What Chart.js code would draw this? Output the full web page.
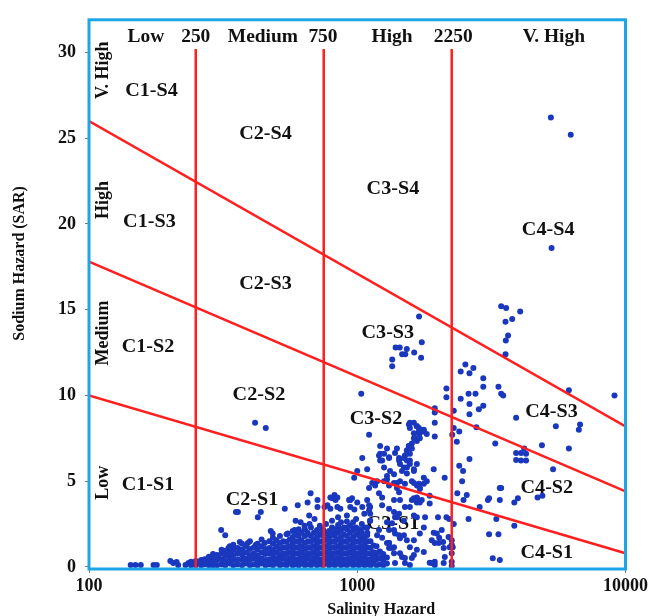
<!DOCTYPE html>
<html>
<head>
<meta charset="utf-8">
<script src="https://cdn.jsdelivr.net/npm/chart.js@4.4.1/dist/chart.umd.min.js"></script>
<style>
  html, body { margin: 0; padding: 0; background: #fff; }
  #wrap { width: 651px; height: 616px; }
</style>
</head>
<body>
<div id="wrap"><canvas id="ussl"></canvas></div>
<script>
// salinity class breaks (EC) and sodium class lines (SAR at EC=100, SAR at EC=10000)
const salinityBreaks = [250, 750, 2250];
const sodiumLines = [[10, 0.8], [17.8, 4.4], [26, 8.2]];
const xTicks = [100, 1000, 10000];
const yTicks = [0, 5, 10, 15, 20, 25, 30];

// scattered samples [EC, SAR]
const samples = [
  [5270,26.2],[6250,25.2],[5300,18.6],
  [3440,15.2],[3590,15.1],[4050,14.9],[3570,14.3],[3780,14.45],[3650,13.5],[3580,13.2],[3570,12.4],
  [2530,11.8],[2430,11.4],[2620,11.3],[2710,11.6],[2950,11.0],[2950,10.5],[3360,10.5],[3440,10.1],[3500,10.0],
  [2430,9.8],[2600,10.1],[2760,10.1],[2620,9.5],[2840,9.2],[2950,9.4],[2620,8.9],[2290,9.1],
  [2290,8.1],[2400,7.9],[2260,7.7],[2780,8.15],[3910,8.7],[6150,10.3],[9100,10.0],[5500,8.2],[6700,8.0],[6770,8.3],
  [2150,10.4],[2150,9.9],
  [2350,7.3],[3270,7.2],[4190,6.9],[3910,6.65],[4080,6.65],[4260,6.6],[3910,6.24],[4080,6.2],[4260,6.2],
  [4880,7.1],[6150,6.9],[5370,5.7],[2400,5.9],[2480,5.6],[2620,6.3],[2460,5.0],[2360,4.3],[2560,4.2],
  [3400,4.6],[3440,4.6],[3100,4.0],[3070,3.9],[3400,3.9],[3850,3.75],[3970,4.0],[4700,4.05],[4900,4.15],
  [2860,3.5],[3300,2.8],[3850,2.4],[3100,1.9],[3360,1.9],[3200,0.5],[3400,0.4],
  [2200,2.8],[2290,2.5],[2250,1.3],[2250,0.05],[2490,3.9],[2600,2.8],
  [1700,14.6],[1740,13.1],[1390,12.8],[1440,12.8],[1530,12.7],[1470,12.4],[1510,12.4],[1630,12.5],[1730,12.2],[1350,12.1],[1350,11.7],
  [1035,10.1],[1945,9.25],[1945,9.0],[1945,8.4],[1107,7.7],
  [1571,8.4],[1668,8.2],[1711,8.0],[1771,7.9],[1698,7.75],[1626,7.5],[1598,7.2],[1558,7.05],[1531,6.8],[1506,6.5],
  [1531,6.2],[1571,6.0],[1493,5.8],[1626,5.7],
  [1816,7.75],[1945,7.6],[1406,6.9],[1432,6.2],[1217,6.6],[1238,6.2],[1314,6.4],[1928,5.7],[1325,5.6],[1371,5.4],[1000,5.6],[974,5.2],
  [1291,5.1],[1406,4.9],[1506,4.85],[1598,5.0],[1698,4.85],[1711,4.6],[1668,4.05],[1740,3.9],[1862,3.7],[2118,5.2],
  [1166,4.75],[1205,4.3],[1238,4.05],[1626,4.0],[1668,3.75],[956,4.0],[1089,3.9],[1117,3.5],
  [1371,3.2],[1406,2.9],[1493,2.7],[1626,3.0],[1790,2.9],[2000,2.9],[2150,2.9],
  [1771,2.3],[1928,2.0],[2020,1.7],[2090,1.45],[1945,1.4],[1314,1.4],[1371,1.15],[1443,0.8],[1626,0.7],[1771,0.87],
  [1862,0.25],[1945,0.3],[2250,1.55],[2270,1.15],[2250,0.3],[1217,7.05],[1291,6.9],
  [2190,1.75],[2210,1.15],[2250,0.8],[2100,1.1],[2120,0.58],[2065,2.15],[1980,1.95],[1896,1.55],[2013,1.4],
  [1896,0.23],[1945,0.12],[2100,0.23],[1668,2.9],[1711,1.95],[1626,1.55],[1571,1.15],[1668,1.0],
  [1468,0.58],[1506,0.52],[1598,0.52],[1348,1.1],[1314,1.4],[1371,0.8],[1531,1.55],[1443,1.68],
  [1291,2.6],[1314,2.15],[1348,2.55],[1205,2.15],[1186,1.85],[1117,3.1],[1238,3.6],[1314,3.4],[1383,2.9],[1432,3.1],
  [1371,3.9],[1443,3.9],[1506,3.5],[1571,3.5],[1598,3.9],[1668,4.0],[1711,3.75],
  [1668,4.75],[1711,4.55],[1771,4.85],[1626,4.9],[1862,4.15],[1771,5.2],[1816,5.0],
  [1531,5.45],[1626,5.6],[1531,5.8],[1571,6.2],[1668,6.0],[1443,5.0],[1406,4.6],[1432,4.35],
  [1314,4.75],[1371,4.9],[1259,5.0],[1291,5.3],[1217,6.2],[1259,5.8],[1259,6.6],[1205,6.5],[1314,6.35],
  [1383,6.65],[1432,6.35],[1493,6.35],[1443,6.0],[1468,5.6],[1558,7.05],[1598,6.9],[1531,6.6],[1571,6.6],
  [1571,8.1],[1626,7.8],[1640,7.5],[1668,7.35],[1711,7.8],[1698,8.1],[1771,8.0],[1711,7.5],
  [1558,8.3],[1626,8.4],[1668,8.2],[1698,7.9],[1044,6.35],[1089,5.7],
  [1186,5.0],[1137,4.9],[1107,4.6],[934,3.9],[942,3.5],[1000,3.75],
  [1044,3.5],[1062,3.1],[1107,3.6],[1117,2.7],[1062,2.3],[1016,2.15],[1089,1.85],
  [1238,1.7],[1291,1.4],[1314,1.1],[1205,0.87],[1238,0.58],[1186,0.52],[1156,0.8],[1493,1.85],
  [1371,2.15],[1383,1.95],[1432,1.85],[1383,0.23],[1506,0.23],[1571,0.12],
  [670,4.3],[822,4.2],[808,4.0],[843,4.05],[600,3.6],[653,3.75],[711,3.5],[359,3.2],[437,3.2],[426,2.9],
  [537,3.4],[774,3.6],[794,3.4],[843,3.5],[934,3.9],[975,3.35],[662,3.0],[693,2.8],[476,2.1],[484,1.95],
  [589,2.7],[615,2.6],[636,2.4],[664,2.5],[584,2.15],[551,1.95],[600,1.85],[653,2.0],[742,2.15],[774,1.95],
  [822,2.0],[858,2.25],[918,2.3],[975,2.25],[1016,2.15],[1089,2.3],[1117,2.7],[365,1.45],[391,1.4],[419,1.3],
  [452,1.4],[336,1.1],[368,1.0],[711,3.9],[794,4.05],[830,3.9],[755,3.5],[942,3.9],[865,3.4],[1107,3.3],
  [416,8.4],[456,8.1],
  [143,0.12],[149,0.12],[156,0.12],[174,0.12],[179,0.12],[201,0.35],[206,0.23],[212,0.29],[215,0.12],
  [229,0.12],[235,0.23],[311,2.15],[322,1.85],[353,3.2],[331,1.1],[278,0.5],[303,0.58],[331,0.7],[255,0.3]
];

// dense low-SAR cluster, column by column: [EC, [SAR, ...]]
const denseColumns = [
  [240, [0.1, 0.3]],
  [250, [0.1, 0.35, 0.2]],
  [262, [0.1, 0.4]],
  [270, [0.15, 0.45, 0.3]],
  [280, [0.1, 0.35, 0.6]],
  [290, [0.2, 0.5, 0.75, 0.1]],
  [300, [0.1, 0.4, 0.7]],
  [312, [0.15, 0.45, 0.8, 1.0]],
  [322, [0.1, 0.35, 0.65, 0.95]],
  [335, [0.2, 0.5, 0.85, 1.2]],
  [345, [0.1, 0.4, 0.7, 1.0, 1.3]],
  [358, [0.15, 0.45, 0.8, 1.1]],
  [372, [0.1, 0.4, 0.7, 1.0, 1.35]],
  [385, [0.2, 0.5, 0.85, 1.2]],
  [398, [0.1, 0.4, 0.7, 1.05, 1.5]],
  [412, [0.15, 0.5, 0.8, 1.15]],
  [425, [0.1, 0.35, 0.65, 1.0, 1.35]],
  [440, [0.2, 0.5, 0.85, 1.2, 1.6]],
  [455, [0.1, 0.4, 0.75, 1.05]],
  [470, [0.15, 0.45, 0.8, 1.1, 1.5]],
  [485, [0.1, 0.4, 0.7, 1.0, 1.35, 1.7]],
  [500, [0.2, 0.5, 0.85, 1.2, 1.55]],
  [515, [0.1, 0.4, 0.7, 1.05, 1.4, 1.8]],
  [530, [0.15, 0.5, 0.8, 1.15, 1.5]],
  [545, [0.1, 0.4, 0.75, 1.1, 1.45, 1.9]],
  [560, [0.2, 0.5, 0.85, 1.2, 1.6]],
  [575, [0.1, 0.4, 0.7, 1.05, 1.4, 1.75, 2.1]],
  [590, [0.15, 0.45, 0.8, 1.15, 1.5, 1.9]],
  [605, [0.1, 0.4, 0.75, 1.1, 1.45, 1.8, 2.2]],
  [620, [0.2, 0.5, 0.85, 1.2, 1.55, 2.0]],
  [638, [0.1, 0.4, 0.7, 1.05, 1.4, 1.8, 2.2]],
  [655, [0.15, 0.5, 0.8, 1.15, 1.5, 1.9]],
  [672, [0.1, 0.4, 0.75, 1.1, 1.45, 1.8, 2.3]],
  [690, [0.2, 0.5, 0.85, 1.2, 1.6, 2.0]],
  [708, [0.1, 0.4, 0.7, 1.05, 1.4, 1.75, 2.15]],
  [725, [0.15, 0.45, 0.8, 1.15, 1.5, 1.9, 2.4]],
  [745, [0.1, 0.4, 0.75, 1.1, 1.45, 1.8, 2.2]],
  [765, [0.2, 0.5, 0.85, 1.2, 1.6, 2.0, 2.5]],
  [785, [0.1, 0.4, 0.7, 1.05, 1.4, 1.75, 2.1]],
  [805, [0.15, 0.5, 0.8, 1.15, 1.5, 1.9, 2.3, 2.7]],
  [825, [0.1, 0.4, 0.75, 1.1, 1.45, 1.8, 2.2]],
  [848, [0.2, 0.5, 0.85, 1.2, 1.6, 2.0, 2.45, 2.9]],
  [870, [0.1, 0.4, 0.7, 1.05, 1.4, 1.75, 2.15, 2.6]],
  [892, [0.15, 0.45, 0.8, 1.15, 1.5, 1.9, 2.3]],
  [915, [0.1, 0.4, 0.75, 1.1, 1.45, 1.8, 2.2, 2.65, 3.0]],
  [940, [0.2, 0.5, 0.85, 1.2, 1.6, 2.0, 2.4]],
  [965, [0.1, 0.4, 0.7, 1.05, 1.4, 1.75, 2.15, 2.6]],
  [990, [0.15, 0.5, 0.8, 1.15, 1.5, 1.9, 2.3, 2.8]],
  [1015, [0.1, 0.4, 0.75, 1.1, 1.45, 1.8, 2.2]],
  [1040, [0.2, 0.5, 0.85, 1.2, 1.6, 2.0, 2.5]],
  [1065, [0.1, 0.4, 0.7, 1.05, 1.4, 1.75]],
  [1090, [0.15, 0.45, 0.8, 1.15, 1.5, 2.0]],
  [1120, [0.1, 0.4, 0.75, 1.1, 1.5]],
  [1150, [0.2, 0.5, 0.85, 1.25]],
  [1180, [0.1, 0.45, 0.8, 1.2]],
  [1215, [0.15, 0.5, 0.9]],
  [1250, [0.1, 0.4, 0.75]],
  [1290, [0.2, 0.55]]
];

// text placed on the diagram: [text, EC, SAR]
const regionLabels = [
  ['C1-S4', 171, 27.7], ['C2-S4', 455, 25.2], ['C3-S4', 1358, 22.0], ['C4-S4', 5150, 19.65],
  ['C1-S3', 168, 20.1], ['C2-S3', 455, 16.5], ['C3-S3', 1300, 13.6], ['C4-S3', 5300, 9.0],
  ['C1-S2', 166, 12.8], ['C2-S2', 430, 10.0], ['C3-S2', 1175, 8.6], ['C4-S2', 5090, 4.6],
  ['C1-S1', 166, 4.75], ['C2-S1', 405, 3.9], ['C3-S1', 1358, 2.5], ['C4-S1', 5090, 0.8]
];
const topLabels = [
  ['Low', 163], ['250', 250], ['Medium', 445], ['750', 745], ['High', 1349], ['2250', 2280], ['V. High', 5408]
];
const sideLabels = [['V. High', 28.96], ['High', 21.4], ['Medium', 13.64], ['Low', 4.91]];

const points = samples.map(p => ({x: p[0], y: p[1]}));
denseColumns.forEach(c => c[1].forEach(s => points.push({x: c[0], y: s})));

const boundaryData = [];
salinityBreaks.forEach(ec => boundaryData.push([{x: ec, y: -0.12}, {x: ec, y: 30.2}]));
sodiumLines.forEach(l => boundaryData.push([{x: 100, y: l[0]}, {x: 10000, y: l[1]}]));

const serif = '"Liberation Serif", "Times New Roman", serif';

function wideText(ctx, txt, x, y, sx) {
  ctx.save();
  ctx.translate(x, y);
  ctx.scale(sx, 1);
  ctx.fillText(txt, 0, 0);
  ctx.restore();
}

const usslText = {
  id: 'usslText',
  beforeDatasetsDraw(chart) {
    const {ctx, scales: {x, y}} = chart;
    ctx.save();
    ctx.fillStyle = '#111';
    ctx.textAlign = 'center';
    ctx.textBaseline = 'middle';
    ctx.font = 'bold 18px ' + serif;
    regionLabels.forEach(l => wideText(ctx, l[0], x.getPixelForValue(l[1]), y.getPixelForValue(l[2]), 1.12));
    topLabels.forEach(l => wideText(ctx, l[0], x.getPixelForValue(l[1]), y.getPixelForValue(30.9), 1.08));
    sideLabels.forEach(l => {
      ctx.save();
      ctx.translate(x.getPixelForValue(112.7), y.getPixelForValue(l[1]));
      ctx.rotate(-Math.PI / 2);
      ctx.fillText(l[0], 0, 0);
      ctx.restore();
    });
    ctx.restore();
  },
  afterDatasetsDraw(chart) {
    const {ctx, chartArea: a} = chart;
    ctx.save();
    ctx.strokeStyle = '#1ca6e6';
    ctx.lineWidth = 3;
    ctx.strokeRect(a.left, a.top, a.right - a.left, a.bottom - a.top);
    ctx.fillStyle = '#111';
    ctx.textAlign = 'center';
    ctx.font = 'bold 16px ' + serif;
    ctx.textBaseline = 'alphabetic';
    ctx.fillText('Salinity Hazard', (a.left + a.right) / 2 + 24, 614);
    ctx.translate(20, (a.top + a.bottom) / 2 - 31);
    ctx.rotate(-Math.PI / 2);
    ctx.textBaseline = 'middle';
    ctx.fillText('Sodium Hazard (SAR)', 0, 0);
    ctx.restore();
  }
};

const tickFont = {family: serif, size: 18, weight: 'bold'};

const datasets = boundaryData.map(d => ({
  type: 'line',
  data: d,
  borderColor: '#ff1f1f',
  borderWidth: 2.5,
  pointRadius: 0,
  fill: false,
  order: 0
}));
datasets.push({
  type: 'scatter',
  data: points,
  backgroundColor: '#1a38bd',
  borderWidth: 0,
  pointRadius: 3,
  order: 1
});

new Chart(document.getElementById('ussl'), {
  type: 'scatter',
  data: {datasets: datasets},
  options: {
    responsive: true,
    maintainAspectRatio: false,
    animation: false,
    devicePixelRatio: 1,
    layout: {padding: {top: 15, right: 22, left: 0, bottom: 0}},
    plugins: {legend: {display: false}, tooltip: {enabled: false}},
    scales: {
      x: {
        type: 'logarithmic',
        min: 100,
        max: 10000,
        afterBuildTicks: s => { s.ticks = xTicks.map(v => ({value: v})); },
        afterFit: s => { s.height = 47; },
        grid: {drawOnChartArea: false, tickLength: 4, color: '#777'},
        border: {display: false},
        ticks: {font: tickFont, color: '#111', padding: 3, maxRotation: 0, autoSkip: false, callback: v => String(v)}
      },
      y: {
        min: -0.12,
        max: 31.9,
        afterBuildTicks: s => { s.ticks = yTicks.map(v => ({value: v})); },
        afterFit: s => { s.width = 89; },
        grid: {drawOnChartArea: false, tickLength: 4, color: '#777'},
        border: {display: false},
        ticks: {font: tickFont, color: '#111', padding: 9, callback: v => String(v)}
      }
    }
  },
  plugins: [usslText]
});
</script>
</body>
</html>
